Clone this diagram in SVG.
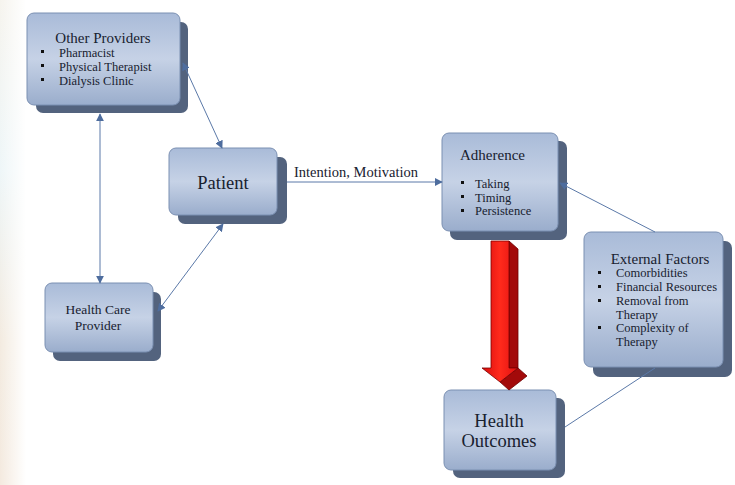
<svg xmlns="http://www.w3.org/2000/svg" width="735" height="485" viewBox="0 0 735 485">
<defs>
<linearGradient id="boxg" x1="0" y1="0" x2="0" y2="1">
<stop offset="0" stop-color="#a9bbd8"/>
<stop offset="0.5" stop-color="#c6d2e6"/>
<stop offset="1" stop-color="#9aadcc"/>
</linearGradient>
<linearGradient id="bgstrip" x1="0" y1="0" x2="0" y2="1">
<stop offset="0" stop-color="#f6f4ee"/>
<stop offset="0.35" stop-color="#eef6f8"/>
<stop offset="0.7" stop-color="#f3ebe0"/>
<stop offset="1" stop-color="#f4eadf"/>
</linearGradient>
<linearGradient id="stripfade" x1="0" y1="0" x2="1" y2="0">
<stop offset="0" stop-color="#fff" stop-opacity="0"/>
<stop offset="1" stop-color="#fff" stop-opacity="1"/>
</linearGradient>
<linearGradient id="redg" x1="0" y1="0" x2="1" y2="0">
<stop offset="0" stop-color="#d80c0c"/>
<stop offset="0.5" stop-color="#ff2a1c"/>
<stop offset="1" stop-color="#e01010"/>
</linearGradient>
<marker id="ah" viewBox="0 0 10 10" refX="9" refY="5" markerWidth="8" markerHeight="8" markerUnits="userSpaceOnUse" orient="auto-start-reverse">
<path d="M0,0 L10,5 L0,10 Z" fill="#4e6d9e"/>
</marker>
<style>
.shadow{fill:#53637e;}
.box{fill:url(#boxg);stroke:#7b90b2;stroke-width:1;}
.t{font-family:"Liberation Serif","DejaVu Serif",serif;fill:#18212f;}
.title{font-size:15px;}
.big{font-size:18.5px;}
.item{font-size:12.5px;}
.mid{text-anchor:middle;}
.bul{fill:#111;}
.conn{stroke:#5b79a8;stroke-width:1;fill:none;}
</style>
</defs>
<rect x="0" y="0" width="735" height="485" fill="#ffffff"/>
<rect x="0" y="0" width="26" height="485" fill="url(#bgstrip)"/>
<rect x="0" y="0" width="26" height="485" fill="url(#stripfade)"/>

<g id="other-providers">
<rect class="shadow" x="36" y="22" width="152" height="91" rx="7"/>
<rect class="box" x="27" y="13" width="153" height="92" rx="7"/>
<text class="t title mid" x="103" y="43">Other Providers</text>
<rect class="bul" x="41" y="50" width="3" height="3"/>
<rect class="bul" x="41" y="64" width="3" height="3"/>
<rect class="bul" x="41" y="78" width="3" height="3"/>
<text class="t item" x="59" y="57">Pharmacist</text>
<text class="t item" x="59" y="71">Physical Therapist</text>
<text class="t item" x="59" y="85">Dialysis Clinic</text>
</g>

<g id="patient">
<rect class="shadow" x="178" y="157" width="109" height="67" rx="7"/>
<rect class="box" x="169" y="148" width="108" height="67" rx="7"/>
<text class="t big mid" x="223" y="189">Patient</text>
</g>

<g id="adherence">
<rect class="shadow" x="450" y="141" width="117" height="99" rx="7"/>
<rect class="box" x="442" y="133" width="116" height="98" rx="7"/>
<text class="t title" x="460" y="160">Adherence</text>
<rect class="bul" x="461" y="181" width="3" height="3"/>
<rect class="bul" x="461" y="195" width="3" height="3"/>
<rect class="bul" x="461" y="209" width="3" height="3"/>
<text class="t item" x="475" y="188">Taking</text>
<text class="t item" x="475" y="202">Timing</text>
<text class="t item" x="475" y="215">Persistence</text>
</g>

<g id="health-care-provider">
<rect class="shadow" x="53" y="292" width="108" height="69" rx="7"/>
<rect class="box" x="45" y="283" width="108" height="69" rx="7"/>
<text class="t mid" x="98" y="314" font-size="13.5px">Health Care</text>
<text class="t mid" x="98" y="330" font-size="13.5px">Provider</text>
</g>

<g id="external-factors">
<rect class="shadow" x="593" y="241" width="139" height="136" rx="7"/>
<rect class="box" x="584" y="232" width="139" height="135" rx="7"/>
<text class="t title mid" x="660" y="264">External Factors</text>
<rect class="bul" x="598" y="271" width="3" height="3"/>
<rect class="bul" x="598" y="285" width="3" height="3"/>
<rect class="bul" x="598" y="299" width="3" height="3"/>
<rect class="bul" x="598" y="326" width="3" height="3"/>
<text class="t item" x="616" y="277">Comorbidities</text>
<text class="t item" x="616" y="291">Financial Resources</text>
<text class="t item" x="616" y="305">Removal from</text>
<text class="t item" x="616" y="319">Therapy</text>
<text class="t item" x="616" y="332">Complexity of</text>
<text class="t item" x="616" y="346">Therapy</text>
</g>

<g id="health-outcomes">
<rect class="shadow" x="453" y="398" width="112" height="80" rx="7"/>
<rect class="box" x="444" y="390" width="112" height="80" rx="7"/>
<text class="t big mid" x="499" y="427">Health</text>
<text class="t big mid" x="499" y="447">Outcomes</text>
</g>

<g id="red-arrow">
<path d="M509,241 L518,249 L518,368 L527,376 L509,390 L500,382 L518,368 L509,368 Z" fill="#a30a0a" stroke="#6e0000" stroke-width="0.8"/>
<path d="M491,241 L509,241 L509,368 L518,368 L500,382 L482,368 L491,368 Z" fill="url(#redg)" stroke="#7a0000" stroke-width="0.8"/>
</g>

<g id="connectors">
<line class="conn" x1="100" y1="114" x2="100" y2="283" marker-start="url(#ah)" marker-end="url(#ah)"/>
<line class="conn" x1="183" y1="63" x2="222" y2="148" marker-start="url(#ah)" marker-end="url(#ah)"/>
<line class="conn" x1="158" y1="311" x2="223" y2="224" marker-start="url(#ah)" marker-end="url(#ah)"/>
<line class="conn" x1="287" y1="182" x2="442" y2="182" marker-end="url(#ah)"/>
<line class="conn" x1="655" y1="232" x2="560" y2="183" marker-end="url(#ah)"/>
<line class="conn" x1="655" y1="368" x2="565" y2="427"/>
<text class="t" x="294" y="177" font-size="14.5px">Intention, Motivation</text>
</g>
</svg>
